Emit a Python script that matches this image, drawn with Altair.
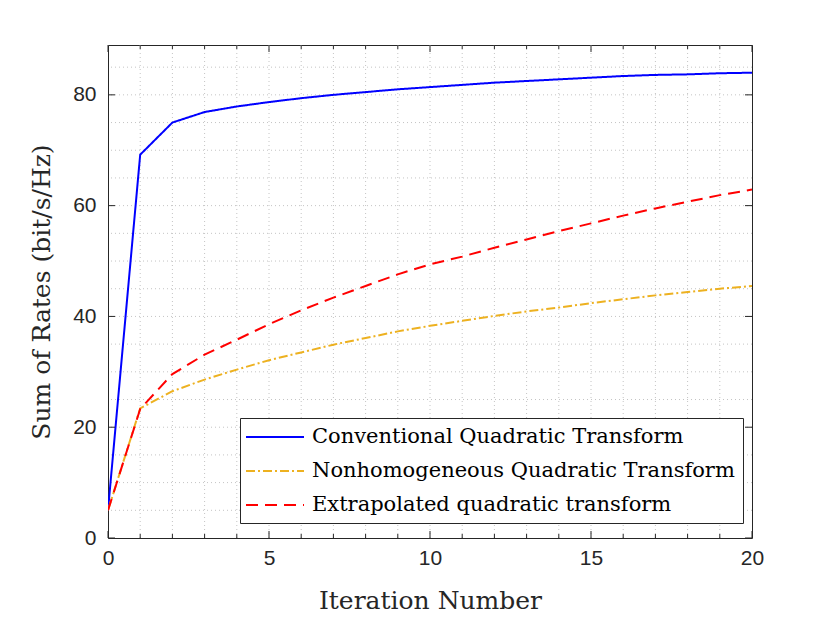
import altair as alt
import pandas as pd

iterations = list(range(0, 21))
conventional = [5.0, 69.2, 75.0, 76.9, 77.9, 78.7, 79.4, 80.0, 80.5, 81.0, 81.4,
                81.8, 82.2, 82.5, 82.8, 83.1, 83.4, 83.6, 83.7, 83.9, 84.0]
nonhomogeneous = [5.0, 23.4, 26.5, 28.6, 30.4, 32.1, 33.5, 34.9, 36.1, 37.3, 38.3,
                  39.2, 40.1, 40.9, 41.6, 42.4, 43.1, 43.8, 44.4, 45.0, 45.5]
extrapolated = [5.0, 23.3, 29.6, 33.1, 35.8, 38.6, 41.1, 43.4, 45.5, 47.6, 49.4,
                50.8, 52.4, 53.9, 55.4, 56.8, 58.2, 59.5, 60.7, 61.9, 62.9]
series_names = ["Conventional Quadratic Transform",
                "Nonhomogeneous Quadratic Transform",
                "Extrapolated quadratic transform"]
series_colors = ["#0000FF", "#EDB120", "#FF0000"]
series_dashes = [[1, 0], [9, 3, 2, 3], [12, 7]]

x_major = [0, 5, 10, 15, 20]
x_minor = list(range(0, 21))
y_major = [0, 20, 40, 60, 80]
y_grid = list(range(5, 90, 5))

rows = []
for name, vals in zip(series_names, [conventional, nonhomogeneous, extrapolated]):
    for it, v in zip(iterations, vals):
        rows.append({"iter": it, "rate": v, "series": name})
df = pd.DataFrame(rows)

W, H = 644, 493
xscale = alt.Scale(domain=[0, 20], nice=False, zero=False)
yscale = alt.Scale(domain=[0, 89], nice=False, zero=False)

axis_common = dict(labelFont="Liberation Sans", labelFontSize=21, labelColor="#262626",
                   titleFont="DejaVu Serif", titleFontSize=25, titleFontWeight="normal",
                   titleColor="#262626", tickSize=0, domain=False, labelOverlap=False,
                   labelFlush=False, grid=False)

grid_color = "#c4c4c4"
xgrid = alt.Chart(pd.DataFrame({"v": x_minor[1:-1]})).mark_rule(
    color=grid_color, strokeDash=[1, 3], strokeWidth=1).encode(
    x=alt.X("v:Q", scale=xscale))
ygrid = alt.Chart(pd.DataFrame({"v": y_grid})).mark_rule(
    color=grid_color, strokeDash=[1, 3], strokeWidth=1).encode(
    y=alt.Y("v:Q", scale=yscale))

lines = alt.Chart(df).mark_line(strokeWidth=2, clip=True).encode(
    x=alt.X("iter:Q", scale=xscale,
            axis=alt.Axis(values=x_major, title="Iteration Number", labelPadding=9,
                          titlePadding=20, **axis_common)),
    y=alt.Y("rate:Q", scale=yscale,
            axis=alt.Axis(values=y_major, title="Sum of Rates (bit/s/Hz)", labelPadding=12,
                          titlePadding=18, **axis_common)),
    color=alt.Color("series:N", sort=series_names,
                    scale=alt.Scale(domain=series_names, range=series_colors),
                    legend=alt.Legend(title=None, orient="none", legendX=132, legendY=373,
                                      labelFont="DejaVu Serif", labelFontSize=21,
                                      labelColor="#000000", labelLimit=700,
                                      symbolType="M-1.3,0H4.5", symbolSize=400,
                                      symbolStrokeWidth=2, symbolFillColor="transparent",
                                      rowPadding=13, padding=8,
                                      strokeColor="#262626", fillColor="white",
                                      symbolOffset=0, labelOffset=42)),
    strokeDash=alt.StrokeDash("series:N", sort=series_names,
                              scale=alt.Scale(domain=series_names, range=series_dashes),
                              legend=None),
)

tick_df_x = pd.DataFrame({"v": x_minor, "major": [v in x_major for v in x_minor]})
tick_df_y = pd.DataFrame({"v": y_major})

xt_bottom = alt.Chart(tick_df_x).transform_filter("datum.major").mark_rule(color="#262626").encode(
    x=alt.X("v:Q", scale=xscale), y=alt.value(H), y2=alt.value(H - 7))
xt_bottom_m = alt.Chart(tick_df_x).transform_filter("!datum.major").mark_rule(color="#262626").encode(
    x=alt.X("v:Q", scale=xscale), y=alt.value(H), y2=alt.value(H - 4))
xt_top = alt.Chart(tick_df_x).transform_filter("datum.major").mark_rule(color="#262626").encode(
    x=alt.X("v:Q", scale=xscale), y=alt.value(0), y2=alt.value(7))
xt_top_m = alt.Chart(tick_df_x).transform_filter("!datum.major").mark_rule(color="#262626").encode(
    x=alt.X("v:Q", scale=xscale), y=alt.value(0), y2=alt.value(4))
yt_left = alt.Chart(tick_df_y).mark_rule(color="#262626").encode(
    y=alt.Y("v:Q", scale=yscale), x=alt.value(0), x2=alt.value(7))
yt_right = alt.Chart(tick_df_y).mark_rule(color="#262626").encode(
    y=alt.Y("v:Q", scale=yscale), x=alt.value(W), x2=alt.value(W - 7))

chart = alt.layer(xgrid, ygrid, lines, xt_bottom, xt_bottom_m, xt_top, xt_top_m,
                  yt_left, yt_right).properties(
    width=W, height=H,
    autosize=alt.AutoSizeParams(type="none"),
    padding={"left": 100, "top": 37, "right": 70, "bottom": 77},
    background="white",
).configure_view(stroke="#262626", strokeWidth=1)

chart.save("out.html", embed_options={"renderer": "svg", "actions": False})
